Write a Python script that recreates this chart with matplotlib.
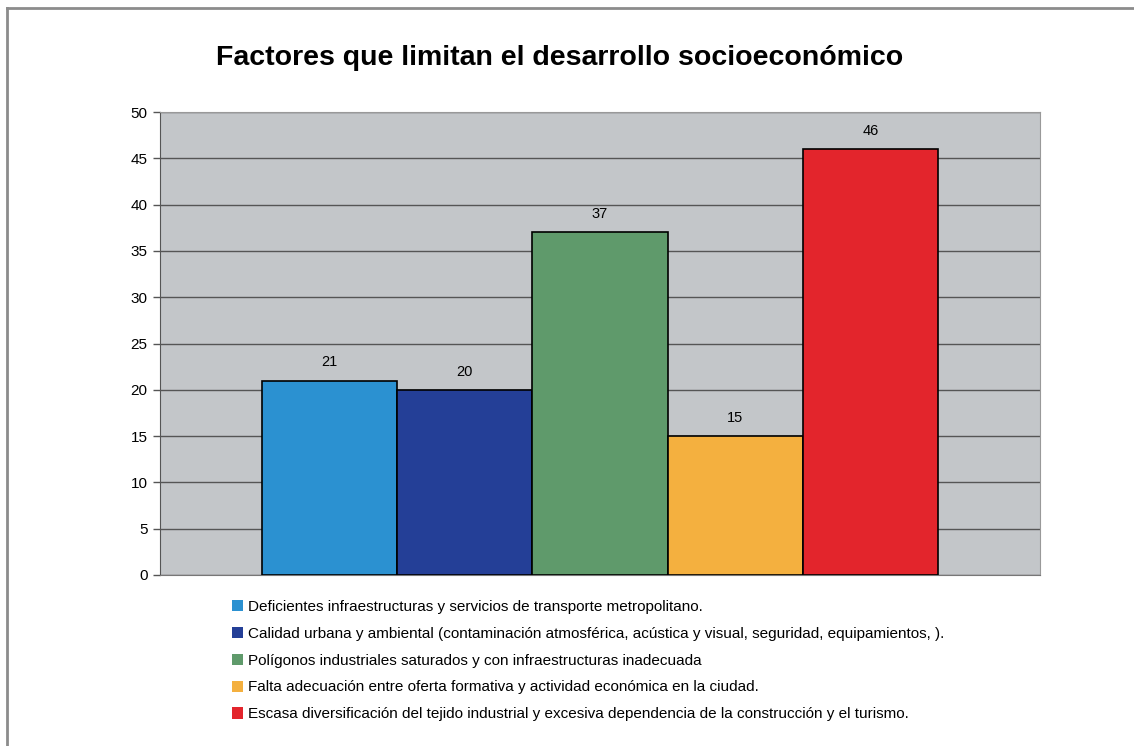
import matplotlib
matplotlib.use('Agg')
import matplotlib.pyplot as plt
import numpy as np

title = 'Factores que limitan el desarrollo socioeconómico'
labels = ['Deficientes infraestructuras y servicios de transporte metropolitano.',
          'Calidad urbana y ambiental (contaminación atmosférica, acústica y visual, seguridad, equipamientos, ).',
          'Polígonos industriales saturados y con infraestructuras inadecuada',
          'Falta adecuación entre oferta formativa y actividad económica en la ciudad.',
          'Escasa diversificación del tejido industrial y excesiva dependencia de la construcción y el turismo.']
values = [21, 20, 37, 15, 46]
colors = ['#2b91d1', '#243f97', '#5f9a6b', '#f4b03f', '#e3252c']
yticks = list(range(0, 51, 5))

fig = plt.figure(figsize=(11.34, 7.46), dpi=100)
ax = fig.add_axes([160/1134, 171/746, 880/1134, 463/746])
ax.set_facecolor('#c3c6c9')

x = np.arange(len(values))
bars = ax.bar(x, values, width=1.0, color=colors, edgecolor='black', linewidth=1.2, zorder=3)
for xi, v in zip(x, values):
    ax.text(xi, v + 1.2, str(v), ha='center', va='bottom', fontsize=10.5,
            family='Liberation Sans', zorder=4)

ax.set_xlim(-1.253, 5.253)
ax.set_ylim(0, 50)
ax.set_yticks(yticks)
ax.set_xticks([])
ax.yaxis.grid(True, color='#555555', linewidth=1.0, zorder=1)
ax.tick_params(axis='y', direction='out', length=5, width=1, color='#555555',
               labelsize=11, pad=4)
for t in ax.get_yticklabels():
    t.set_family('Liberation Sans')
for side in ['top', 'right']:
    ax.spines[side].set_color('#999999')
ax.spines['left'].set_color('#555555')
ax.spines['bottom'].set_color('#777777')

fig.text(560/1134, 1 - 58/746, title, ha='center', va='center', fontsize=20.5,
         fontweight='bold', family='Liberation Sans')

leg = fig.legend(bars, labels, loc='upper left', bbox_to_anchor=(232/1134, 1 - 600/746),
                 frameon=False, prop={'family': 'Liberation Sans', 'size': 11},
                 handlelength=0.75, handleheight=0.75, handletextpad=0.3, labelspacing=0.84,
                 borderaxespad=0, borderpad=0)
for h in leg.legend_handles:
    h.set_edgecolor('none')

# frame around the chart
fig.add_artist(plt.Line2D([7/1134, 7/1134], [0, 1 - 8/746], color='#8c8c8c', linewidth=2))
fig.add_artist(plt.Line2D([7/1134, 1], [1 - 8/746, 1 - 8/746], color='#8c8c8c', linewidth=2))

fig.savefig('out.png', dpi=100)
